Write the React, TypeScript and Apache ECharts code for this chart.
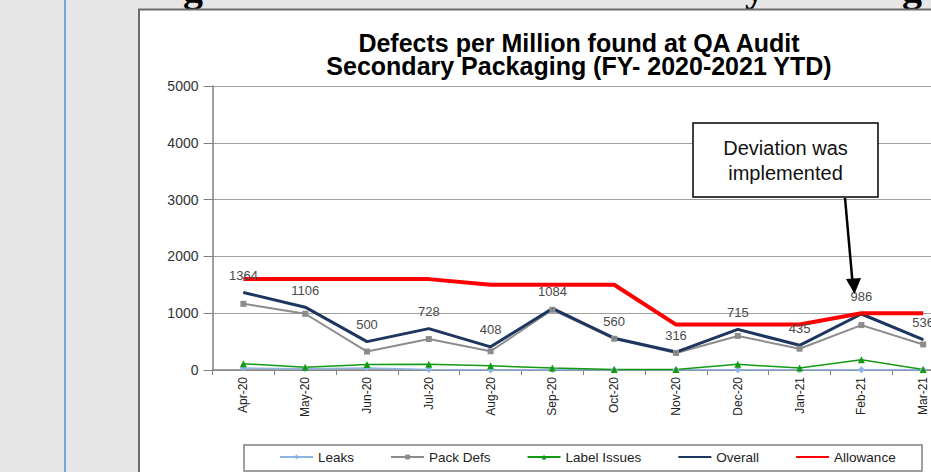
import React, { useEffect, useRef } from 'react';
import * as echarts from 'echarts';

const categories = ['Apr-20', 'May-20', 'Jun-20', 'Jul-20', 'Aug-20', 'Sep-20', 'Oct-20', 'Nov-20', 'Dec-20', 'Jan-21', 'Feb-21', 'Mar-21'];
const leaks = [35, 20, 35, 10, 0, 5, 5, 5, 3, 3, 3, 3];
const packDefs = [1165, 990, 325, 545, 330, 1060, 550, 300, 600, 375, 790, 450];
const labelIssues = [110, 50, 95, 100, 75, 35, 10, 10, 100, 35, 180, 8];
const overall = [1364, 1106, 500, 728, 408, 1084, 560, 316, 715, 435, 986, 536];
const allowance = [1600, 1600, 1600, 1600, 1500, 1500, 1500, 800, 800, 800, 1000, 1000];
const yTicks = { min: 0, max: 5000, interval: 1000 };

const titleText = 'Defects per Million found at QA Audit\nSecondary Packaging (FY- 2020-2021 YTD)';
const noteText = 'Deviation was\nimplemented';
const sans = '"Liberation Sans", Arial, sans-serif';

export default function App() {
  const ref = useRef<HTMLDivElement>(null);
  useEffect(() => {
    const chart = echarts.init(ref.current!, null, { renderer: 'svg' });
    chart.setOption({
      animation: false,
      backgroundColor: '#e6e6e6',
      textStyle: { fontFamily: sans },
      grid: { left: 212.5, top: 86, height: 284, width: 741.6, containLabel: false },
      legend: {
        left: 279,
        top: 450,
        itemWidth: 33,
        itemHeight: 6,
        itemGap: 36,
        padding: 0,
        textStyle: { fontFamily: sans, fontSize: 13.5, color: '#222' },
        data: [
          'Leaks',
          'Pack Defs',
          'Label Issues',
          { name: 'Overall', itemStyle: { opacity: 0 } },
          { name: 'Allowance', itemStyle: { opacity: 0 } },
        ],
      },
      xAxis: {
        type: 'category',
        data: categories,
        boundaryGap: true,
        axisLine: { lineStyle: { color: '#808080', width: 1.5 } },
        axisTick: { show: true, length: 5, lineStyle: { color: '#808080' } },
        axisLabel: { rotate: 90, fontSize: 12, margin: 7, color: '#222', fontFamily: sans },
      },
      yAxis: {
        type: 'value',
        min: yTicks.min,
        max: yTicks.max,
        interval: yTicks.interval,
        axisLine: { show: true, lineStyle: { color: '#808080', width: 1.5 } },
        axisTick: { show: true, length: 9, lineStyle: { color: '#808080' } },
        axisLabel: { fontSize: 14, margin: 14, color: '#333', fontFamily: sans, formatter: (v: number) => String(v) },
        splitLine: { lineStyle: { color: '#a0a0a0', width: 1 } },
      },
      series: [
        {
          name: 'Leaks', type: 'line', data: leaks,
          symbol: 'diamond', symbolSize: 7,
          itemStyle: { color: '#8db4e2' }, lineStyle: { color: '#8db4e2', width: 1.5 },
        },
        {
          name: 'Pack Defs', type: 'line', data: packDefs,
          symbol: 'rect', symbolSize: 6,
          itemStyle: { color: '#8c8c8c' }, lineStyle: { color: '#8c8c8c', width: 2 },
        },
        {
          name: 'Label Issues', type: 'line', data: labelIssues,
          symbol: 'triangle', symbolSize: 7,
          itemStyle: { color: '#149a14' }, lineStyle: { color: '#149a14', width: 1.5 },
        },
        {
          name: 'Overall', type: 'line', data: overall,
          symbol: 'circle', symbolSize: 1, showSymbol: true,
          itemStyle: { color: '#1d3660' }, lineStyle: { color: '#1d3660', width: 3 },
          label: { show: true, position: 'top', distance: 10, fontSize: 13, color: '#4a4a4a', fontFamily: sans },
        },
        {
          name: 'Allowance', type: 'line', data: allowance,
          symbol: 'none',
          itemStyle: { color: '#ff0000' }, lineStyle: { color: '#ff0000', width: 4 },
        },
      ],
      graphic: [
        { type: 'line', z: -20, shape: { x1: 65, y1: 0, x2: 65, y2: 472 }, style: { stroke: '#6fa8dc', lineWidth: 2 } },
        { type: 'text', z: -20, x: 183, y: -13, style: { text: 'g', font: 'bold 40px "Liberation Serif", serif', fill: '#000', verticalAlign: 'middle' } },
        { type: 'text', z: -20, x: 745, y: -13, style: { text: 'y', font: 'bold 40px "Liberation Serif", serif', fill: '#000', verticalAlign: 'middle' } },
        { type: 'text', z: -20, x: 902, y: -13, style: { text: 'g', font: 'bold 40px "Liberation Serif", serif', fill: '#000', verticalAlign: 'middle' } },
        { type: 'rect', z: -10, shape: { x: 139, y: 9.5, width: 900, height: 520 }, style: { fill: '#ffffff', stroke: '#6b6b6b', lineWidth: 2 } },
        { type: 'rect', z: -5, shape: { x: 244, y: 445, width: 678, height: 26 }, style: { fill: '#ffffff', stroke: '#808080', lineWidth: 1.5 } },
        {
          type: 'text', z: 50, x: 579, y: 31.5,
          style: { text: titleText, font: `bold 25px ${sans}`, fill: '#000', align: 'center', verticalAlign: 'top', lineHeight: 23 },
        },
        { type: 'rect', z: 50, shape: { x: 693, y: 123, width: 185, height: 74 }, style: { fill: '#ffffff', stroke: '#000', lineWidth: 1.5 } },
        {
          type: 'text', z: 51, x: 785.5, y: 135.5,
          style: { text: noteText, font: `20px ${sans}`, fill: '#111', align: 'center', verticalAlign: 'top', lineHeight: 25 },
        },
        { type: 'line', z: 50, shape: { x1: 845, y1: 198, x2: 852.5, y2: 282 }, style: { stroke: '#000', lineWidth: 2.5 } },
        { type: 'polygon', z: 50, shape: { points: [[846, 279], [861, 278], [854.5, 294]] }, style: { fill: '#000' } },
      ],
    });
    return () => chart.dispose();
  }, []);
  return (
    <div style={{ position: 'fixed', left: 0, top: 0, width: 931, height: 472, overflow: 'hidden', background: '#e6e6e6' }}>
      <div ref={ref} style={{ width: 990, height: 472 }} />
    </div>
  );
}
